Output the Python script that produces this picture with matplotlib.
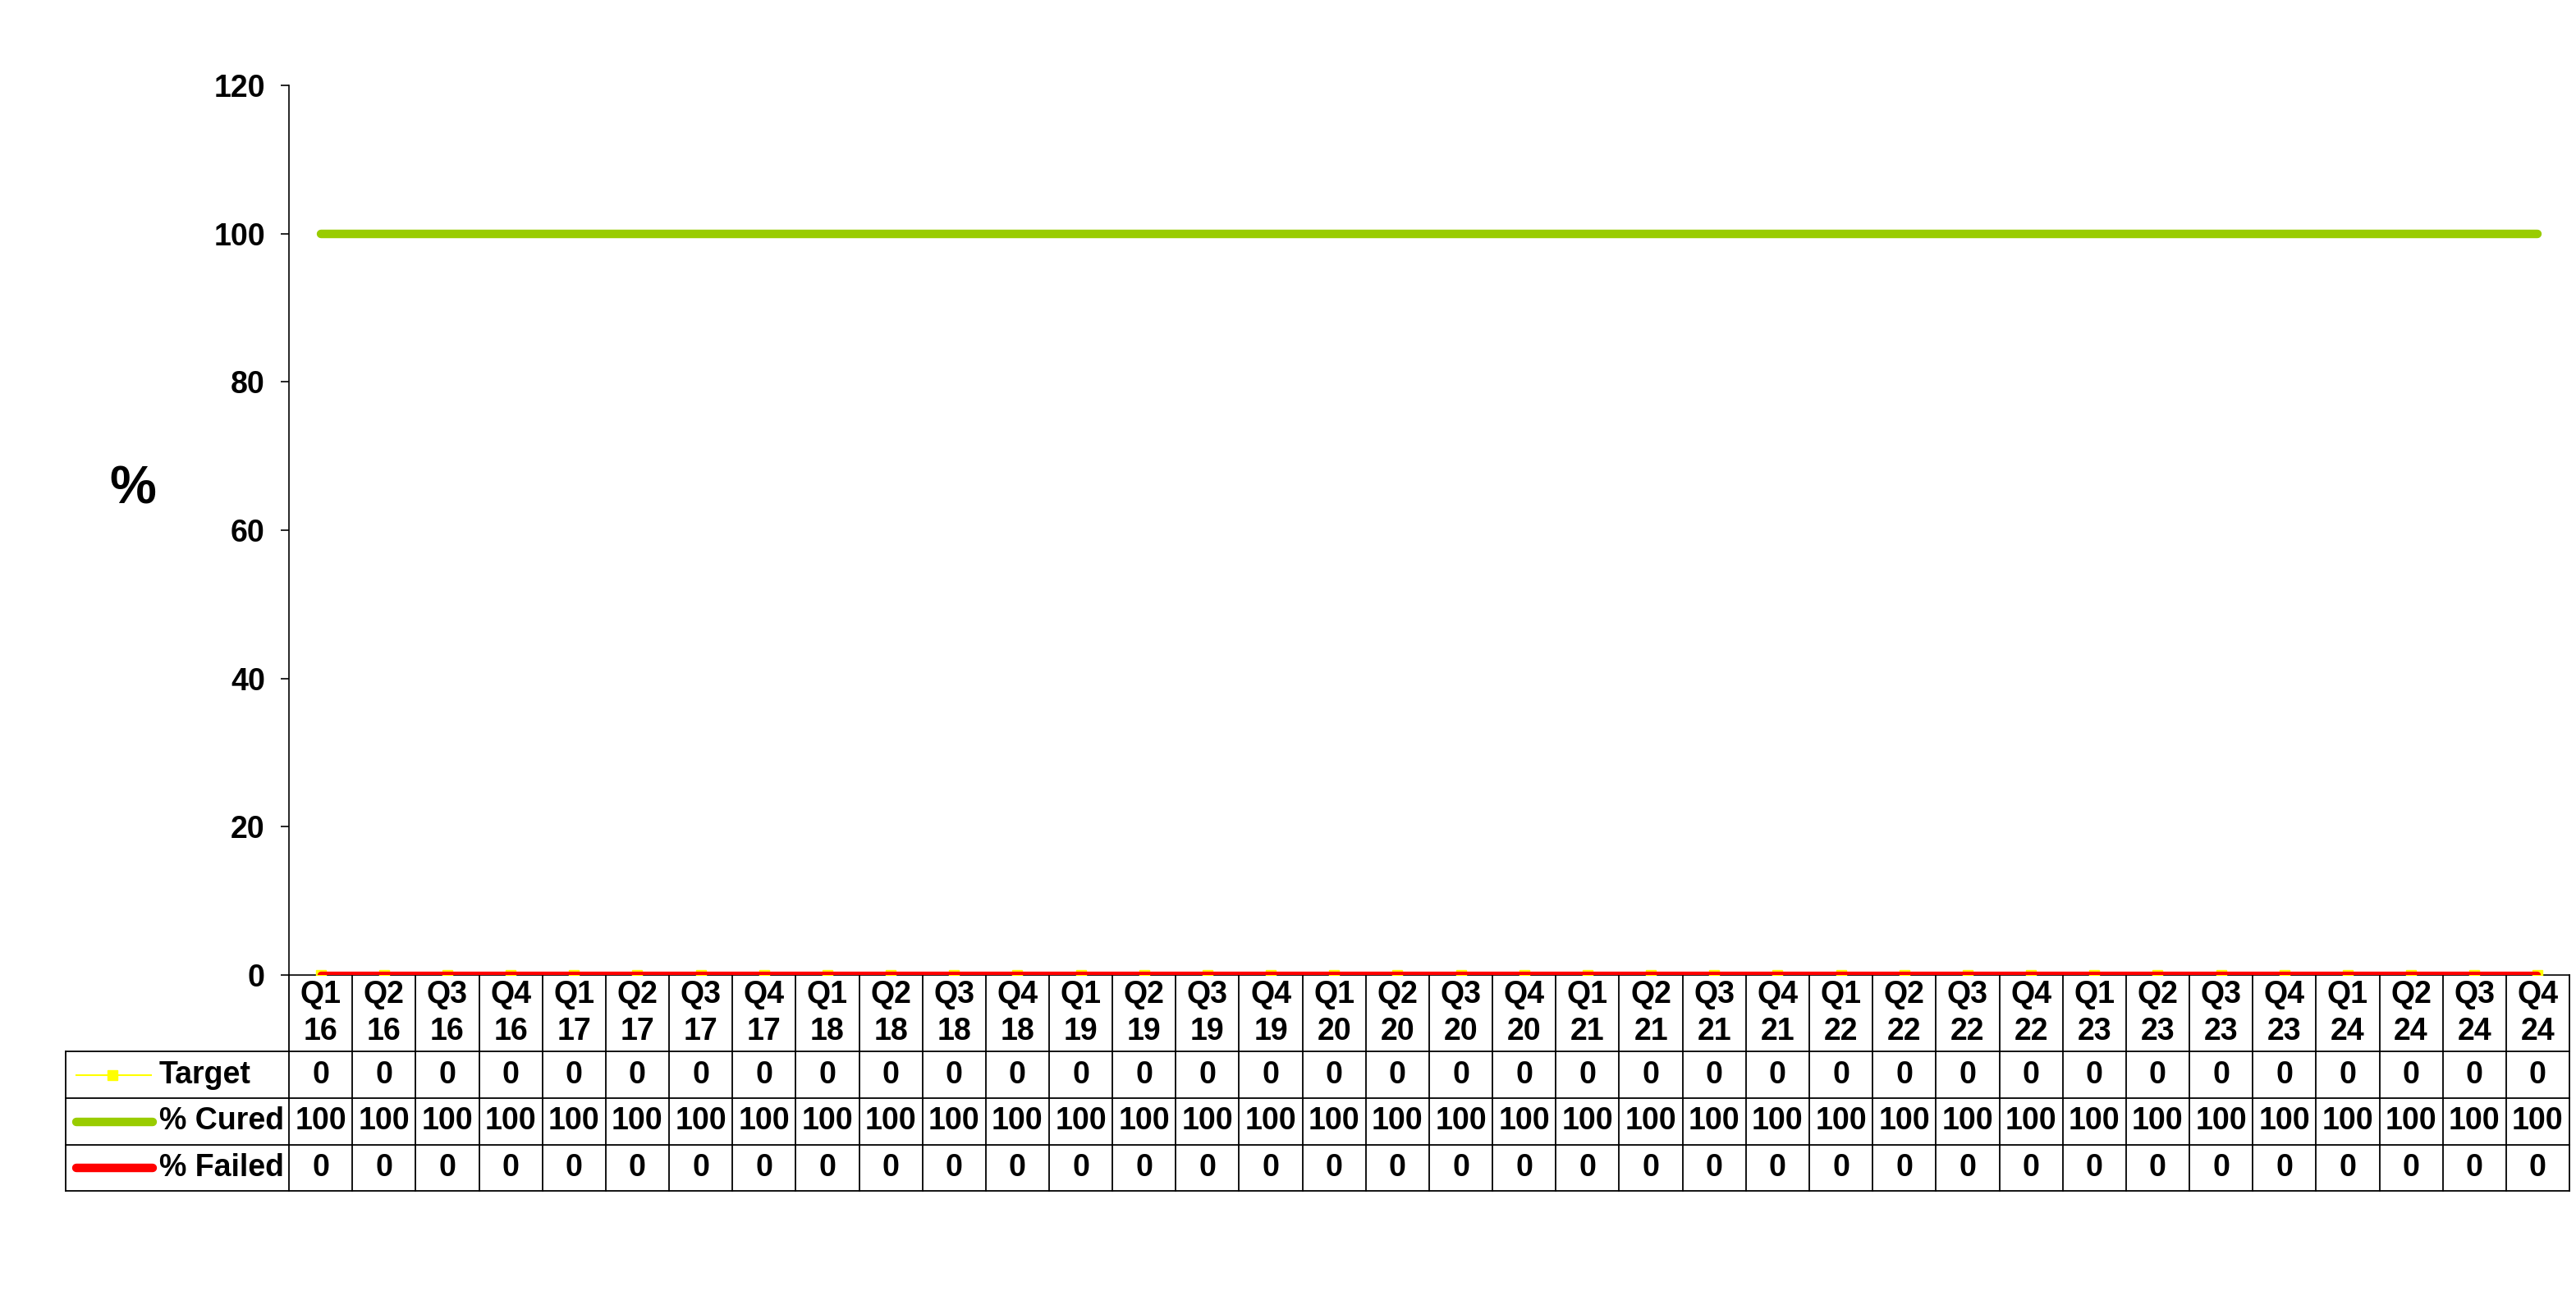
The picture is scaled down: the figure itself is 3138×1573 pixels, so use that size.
import matplotlib.pyplot as plt
from matplotlib.transforms import blended_transform_factory

plt.rcParams['font.family'] = ['Liberation Sans', 'DejaVu Sans']
plt.rcParams['font.weight'] = 'bold'

# data
quarters = ['Q1', 'Q2', 'Q3', 'Q4'] * 9
years = ['16', '16', '16', '16', '17', '17', '17', '17', '18', '18', '18', '18',
         '19', '19', '19', '19', '20', '20', '20', '20', '21', '21', '21', '21',
         '22', '22', '22', '22', '23', '23', '23', '23', '24', '24', '24', '24']
target = [0, 0, 0, 0, 0, 0, 0, 0, 0, 0, 0, 0, 0, 0, 0, 0, 0, 0,
          0, 0, 0, 0, 0, 0, 0, 0, 0, 0, 0, 0, 0, 0, 0, 0, 0, 0]
cured = [100, 100, 100, 100, 100, 100, 100, 100, 100, 100, 100, 100,
         100, 100, 100, 100, 100, 100, 100, 100, 100, 100, 100, 100,
         100, 100, 100, 100, 100, 100, 100, 100, 100, 100, 100, 100]
failed = [0, 0, 0, 0, 0, 0, 0, 0, 0, 0, 0, 0, 0, 0, 0, 0, 0, 0,
          0, 0, 0, 0, 0, 0, 0, 0, 0, 0, 0, 0, 0, 0, 0, 0, 0, 0]
series_names = ['Target', '% Cured', '% Failed']
yticks = [0, 20, 40, 60, 80, 100, 120]

categories = [q + '\n' + y for q, y in zip(quarters, years)]
n = len(categories)
x = list(range(n))

W, H = 3138, 1573
fig = plt.figure(figsize=(W / 100, H / 100), dpi=100)
ax = fig.add_axes([352 / W, 1 - 1188 / H, (3130 - 352) / W, (1188 - 104) / H])

ax.plot(x, target, color='#FFFF00', lw=1.5, marker='s', ms=8.5, zorder=3,
        solid_capstyle='round')
ax.plot(x, cured, color='#99CC00', lw=7.5, solid_capstyle='round', zorder=4)
ax.plot(x, failed, color='#FF0000', lw=6, solid_capstyle='round', zorder=5)

ax.set_xlim(-0.5, n - 0.5)
ax.set_ylim(0, 120)
ax.set_yticks(yticks)
ax.set_yticklabels([str(t) for t in yticks], fontsize=27, fontweight='bold')
ax.tick_params(axis='y', direction='out', length=7, width=1.2, pad=14)
ax.set_xticks([])
for s in ['top', 'right']:
    ax.spines[s].set_visible(False)
ax.spines['left'].set_linewidth(1.2)
ax.spines['bottom'].set_linewidth(1.2)

ax.text(162 / W, 1 - 597 / H, '%', transform=fig.transFigure, fontsize=46,
        fontweight='bold', ha='center', va='center')

# table below the axes
trans = blended_transform_factory(ax.transData, ax.transAxes)
ax_h = 1188 - 104


def px2x(px):
    return -0.5 + (px - 352) / ((3130 - 352) / n)


def py2y(py):
    return -(py - 1188) / ax_h


x_left = px2x(80)
row_edges = [py2y(p) for p in [1281, 1338, 1395, 1451]]
lw_t = 1.3

for i in range(n + 1):
    ax.plot([i - 0.5, i - 0.5], [0, row_edges[-1]], color='black', lw=lw_t,
            transform=trans, clip_on=False)
ax.plot([x_left, x_left], [row_edges[0], row_edges[-1]], color='black', lw=lw_t,
        transform=trans, clip_on=False)
for y in row_edges:
    ax.plot([x_left, n - 0.5], [y, y], color='black', lw=lw_t,
            transform=trans, clip_on=False)

hdr_c = (0 + row_edges[0]) / 2
for i, c in enumerate(categories):
    ax.text(i, hdr_c, c, transform=trans, ha='center', va='center',
            fontsize=27, fontweight='bold', linespacing=1.3)

row_c = [(row_edges[k] + row_edges[k + 1]) / 2 for k in range(3)]
for vals, yc in zip([target, cured, failed], row_c):
    for i, v in enumerate(vals):
        ax.text(i, yc, str(v), transform=trans, ha='center', va='center',
                fontsize=27, fontweight='bold')

# legend keys
ax.plot([px2x(93), px2x(184)], [row_c[0], row_c[0]], color='#FFFF00', lw=1.5,
        transform=trans, clip_on=False)
ax.plot([px2x(137)], [row_c[0]], color='#FFFF00', marker='s', ms=8,
        transform=trans, clip_on=False)
ax.plot([px2x(93), px2x(186)], [row_c[1], row_c[1]], color='#99CC00', lw=7.5,
        solid_capstyle='round', transform=trans, clip_on=False)
ax.plot([px2x(93), px2x(186)], [row_c[2], row_c[2]], color='#FF0000', lw=7.5,
        solid_capstyle='round', transform=trans, clip_on=False)
for name, yc in zip(series_names, row_c):
    ax.text(px2x(194), yc, name, transform=trans, ha='left', va='center',
            fontsize=27, fontweight='bold')

fig.savefig('out.png', dpi=100, facecolor='white')
